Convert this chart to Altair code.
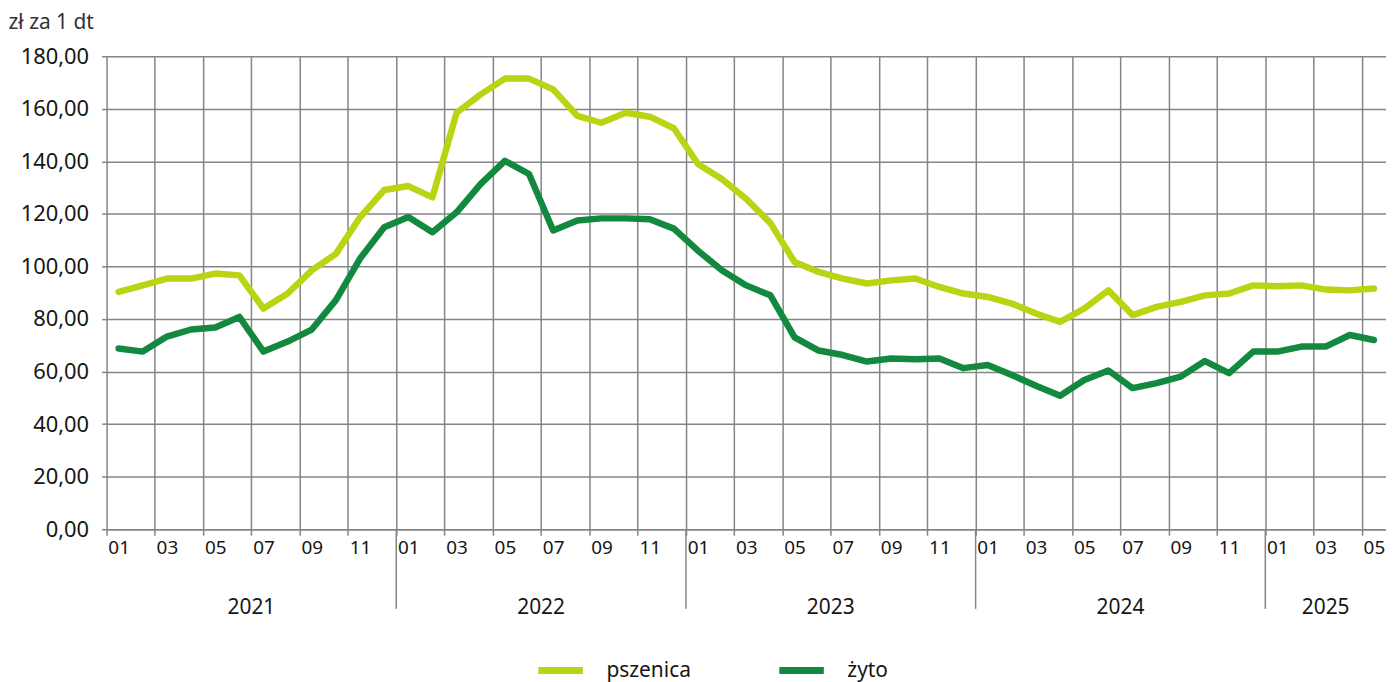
import altair as alt
import pandas as pd

years = [2021, 2022, 2023, 2024, 2025]
months_per_year = [12, 12, 12, 12, 5]

pszenica = [
    90.3, 92.8, 95.4, 95.4, 97.3, 96.6, 84.0, 89.7, 98.5, 104.8, 118.7, 129.1,
    130.6, 126.3, 158.5, 165.5, 171.5, 171.5, 167.4, 157.3, 154.7, 158.5, 157.0, 152.6,
    139.0, 133.2, 125.7, 116.5, 101.7, 97.9, 95.4, 93.5, 94.7, 95.4, 92.2, 89.7,
    88.4, 85.9, 82.1, 78.9, 84.0, 90.9, 81.5, 84.6, 86.5, 89.0, 89.7, 92.8,
    92.5, 92.8, 91.2, 90.9, 91.6,
]
zyto = [
    68.8, 67.6, 73.3, 76.0, 76.8, 80.8, 67.6, 71.4, 76.0, 87.2, 103.0, 114.9,
    118.8, 113.0, 120.6, 131.4, 140.2, 135.2, 113.7, 117.5, 118.3, 118.3, 118.0, 114.4,
    106.0, 98.5, 92.8, 89.0, 73.0, 68.0, 66.3, 63.8, 65.0, 64.7, 65.0, 61.3,
    62.5, 58.7, 54.6, 50.8, 56.8, 60.4, 53.7, 55.6, 58.1, 64.0, 59.4, 67.6,
    67.6, 69.5, 69.5, 73.9, 72.0,
]
series_names = ["pszenica", "żyto"]
series_colors = ["#bad313", "#12893f"]
y_ticks = [0, 20, 40, 60, 80, 100, 120, 140, 160, 180]

# build tables
rows = []
idx = 0
for y, n in zip(years, months_per_year):
    for m in range(1, n + 1):
        rows.append({"idx": idx, "label": f"{y}-{m:02d}",
                     "pszenica": pszenica[idx], "żyto": zyto[idx]})
        idx += 1
df = pd.DataFrame(rows)
long = df.melt(id_vars=["idx", "label"], value_vars=series_names,
               var_name="seria", value_name="cena")
N = len(df)

# year groups
year_start = []
s = 0
for n in months_per_year:
    year_start.append(s)
    s += n
year_df = pd.DataFrame({
    "year": [str(y) for y in years],
    "center": [st + (n - 1) / 2 for st, n in zip(year_start, months_per_year)],
})
sep_df = pd.DataFrame({"b": [st - 0.5 for st in year_start[1:]]})

W = 1285
H = 475
band = W / N
GRID = "#858585"
TXT = "#161616"
FONT = "Noto Sans"

xscale = alt.Scale(domain=[-0.5, N - 0.5], nice=False, zero=False)

x_axis = alt.Axis(
    values=[i - 0.5 for i in range(N + 1)],
    grid=True, gridColor=GRID, gridWidth=1.5,
    tickSize=6, tickColor=GRID, tickWidth=1.5,
    domainColor=GRID, domainWidth=1.5,
    labelExpr=(f"((datum.value + 0.5) % 2 == 0 && datum.value < {N - 1}) ? "
               "((((datum.value + 0.5) % 12) + 1) < 10 ? '0' : '') + (((datum.value + 0.5) % 12) + 1) : ''"),
    labelOffset=band / 2, labelFlush=False, labelOverlap=False, labelBound=False,
    labelFontSize=19, labelPadding=3, labelColor=TXT, labelFont=FONT,
    title=None,
)
y_axis = alt.Axis(
    values=y_ticks, grid=True, gridColor=GRID, gridWidth=1.5,
    tickSize=5, tickColor=GRID, tickWidth=1.5, domain=False,
    labelExpr="replace(format(datum.value, '.2f'), '.', ',')",
    labelFontSize=22, labelPadding=13, labelColor=TXT, labelFont=FONT,
    title="zł za 1 dt", titleAngle=0, titleAlign="left", titleBaseline="middle",
    titleX=-99, titleY=-34, titleFontSize=21, titleFontWeight="normal",
    titleColor="#333333", titleFont=FONT,
)

lines = alt.Chart(long).mark_line(strokeWidth=6.5, strokeCap="round", strokeJoin="round").encode(
    x=alt.X("idx:Q", scale=xscale, axis=x_axis),
    y=alt.Y("cena:Q", scale=alt.Scale(domain=[0, 180], nice=False), axis=y_axis),
    color=alt.Color(
        "seria:N",
        scale=alt.Scale(domain=series_names, range=series_colors),
        legend=alt.Legend(
            title=None, orient="none", direction="horizontal",
            legendX=430, legendY=591, symbolType="stroke", symbolSize=2000,
            symbolStrokeWidth=7, labelFontSize=21, labelFont=FONT, labelColor=TXT,
            labelOffset=20, columnPadding=74, padding=0,
        ),
    ),
    order="seria:N",
)

seps = alt.Chart(sep_df).mark_rule(color=GRID, strokeWidth=1.5).encode(
    x=alt.X("b:Q", scale=xscale),
    y=alt.value(H), y2=alt.value(H + 80),
)

year_text = alt.Chart(year_df).mark_text(fontSize=21, font=FONT, color=TXT, baseline="middle").encode(
    x=alt.X("center:Q", scale=xscale),
    y=alt.value(H + 79),
    text="year:N",
)

chart = alt.layer(lines, seps, year_text).properties(
    width=W, height=H,
    autosize=alt.AutoSizeParams(type="none"),
    padding={"left": 99, "top": 47, "right": 0, "bottom": 156},
    background="white",
).configure_view(stroke=None)

chart.save("out.html", embed_options={"renderer": "svg", "actions": False})
